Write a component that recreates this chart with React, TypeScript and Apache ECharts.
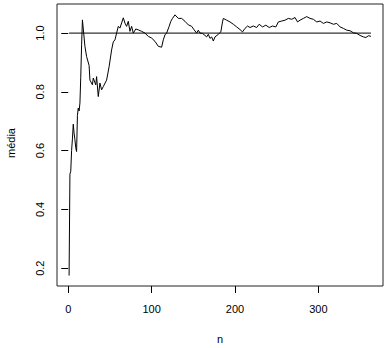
import React, { useEffect, useRef } from "react";
import * as echarts from "echarts";

// n (sample size) and the running mean ("média")
const nValues: number[] = [
  1, 2, 3, 4, 5, 6, 7, 8, 9, 10, 11, 12, 13, 14, 15, 16, 17,
  20, 22, 25, 26, 29, 30, 33, 34, 36, 38, 40, 42, 46, 49, 52, 54, 56, 58, 60,
  62, 66, 68, 70, 72, 74, 76, 78, 81, 84, 88, 92, 96, 100, 104, 108, 112, 114,
  116, 118, 121, 123, 125, 128, 132, 136, 140, 144, 148, 151, 154, 156, 158,
  161, 164, 166, 168, 170, 172, 174, 176, 180, 183, 185, 186, 190, 194, 198,
  202, 206, 209, 212, 215, 218, 222, 226, 229, 233, 237, 241, 245, 249, 252,
  256, 260, 264, 268, 272, 275, 278, 282, 286, 290, 294, 298, 302, 306, 310,
  314, 318, 322, 326, 330, 334, 338, 342, 346, 350, 354, 357, 360, 363,
];
const mediaValues: number[] = [
  0.175, 0.52, 0.53, 0.6, 0.64, 0.69, 0.66, 0.637, 0.61, 0.597, 0.72, 0.745, 0.735, 0.762, 0.85, 0.96, 1.045,
  0.955, 0.92, 0.89, 0.84, 0.824, 0.847, 0.824, 0.852, 0.784, 0.83, 0.807, 0.818, 0.84, 0.886, 0.943, 0.97, 0.977, 1.0, 1.023,
  1.017, 1.052, 1.034, 1.023, 1.04, 1.006, 1.023, 1.0, 1.014, 1.011, 1.006, 1.0, 0.989, 0.983, 0.972, 0.955, 0.952, 0.977,
  0.994, 1.0, 1.023, 1.04, 1.05, 1.062, 1.05, 1.05, 1.04, 1.028, 1.023, 1.011, 1.0, 1.01, 1.0,
  0.999, 0.992, 0.987, 0.996, 0.982, 0.987, 0.973, 0.987, 0.996, 1.004, 1.038, 1.05, 1.044, 1.038, 1.03,
  1.021, 1.012, 1.004, 1.016, 1.024, 1.019, 1.024, 1.019, 1.03, 1.021, 1.027, 1.019, 1.024, 1.021, 1.038,
  1.041, 1.044, 1.05, 1.047, 1.053, 1.038, 1.044, 1.05, 1.056, 1.05, 1.047, 1.038, 1.041, 1.033, 1.038,
  1.035, 1.03, 1.033, 1.021, 1.016, 1.01, 1.008, 1.001, 0.999, 0.992, 0.987, 0.985, 0.991, 0.989,
];
// reference line at 1 from n = 1 to n = 363
const refN: number[] = [1, 363];
const refValues: number[] = [1, 1];

const xTicks: number[] = [0, 100, 200, 300];
const yTicks: number[] = [0.2, 0.4, 0.6, 0.8, 1.0];
const xTitle = "n";
const yTitle = "média";

const FONT = "'Liberation Sans', Arial, Helvetica, sans-serif";

export default function App() {
  const ref = useRef<HTMLDivElement>(null);
  useEffect(() => {
    if (!ref.current) return;
    const chart = echarts.init(ref.current, undefined, { renderer: "svg" });
    const curve = nValues.map((n, i) => [n, mediaValues[i]]);
    const refLine = refN.map((n, i) => [n, refValues[i]]);
    chart.setOption({
      animation: false,
      backgroundColor: "#ffffff",
      grid: {
        left: 57,
        right: 7,
        top: 4,
        bottom: 62,
        show: true,
        borderColor: "#222",
        borderWidth: 1,
        backgroundColor: "transparent",
      },
      xAxis: {
        type: "value",
        min: -13.5,
        max: 377.5,
        axisLine: { show: false },
        splitLine: { show: false },
        axisTick: { show: true, length: 7, customValues: xTicks, lineStyle: { color: "#000" } },
        axisLabel: {
          show: true,
          customValues: xTicks,
          margin: 17,
          fontSize: 11,
          color: "#000",
          fontFamily: FONT,
          formatter: (v: number) => String(v),
        },
      },
      yAxis: {
        type: "value",
        min: 0.1395,
        max: 1.099,
        axisLine: { show: false },
        splitLine: { show: false },
        axisTick: { show: true, length: 7, customValues: yTicks, lineStyle: { color: "#000" } },
        axisLabel: {
          show: true,
          customValues: yTicks,
          rotate: 90,
          margin: 12,
          fontSize: 11,
          color: "#000",
          fontFamily: FONT,
          formatter: (v: number) => v.toFixed(1),
        },
      },
      graphic: [
        {
          type: "text",
          x: 220,
          y: 339,
          style: {
            text: xTitle,
            fontSize: 11,
            fontFamily: FONT,
            fill: "#000",
            textAlign: "center",
            textVerticalAlign: "middle",
          },
        },
        {
          type: "text",
          x: 11,
          y: 143,
          rotation: Math.PI / 2,
          style: {
            text: yTitle,
            fontSize: 11,
            fontFamily: FONT,
            fill: "#000",
            textAlign: "center",
            textVerticalAlign: "middle",
          },
        },
      ],
      series: [
        {
          type: "line",
          data: curve,
          showSymbol: false,
          symbol: "none",
          lineStyle: { color: "#000", width: 1 },
          z: 3,
        },
        {
          type: "line",
          data: refLine,
          showSymbol: false,
          symbol: "none",
          lineStyle: { color: "#000", width: 1 },
          z: 2,
        },
      ],
    });
    return () => chart.dispose();
  }, []);
  return (
    <div
      ref={ref}
      style={{ position: "fixed", left: 0, top: 0, width: 390, height: 348, background: "#fff" }}
    />
  );
}
